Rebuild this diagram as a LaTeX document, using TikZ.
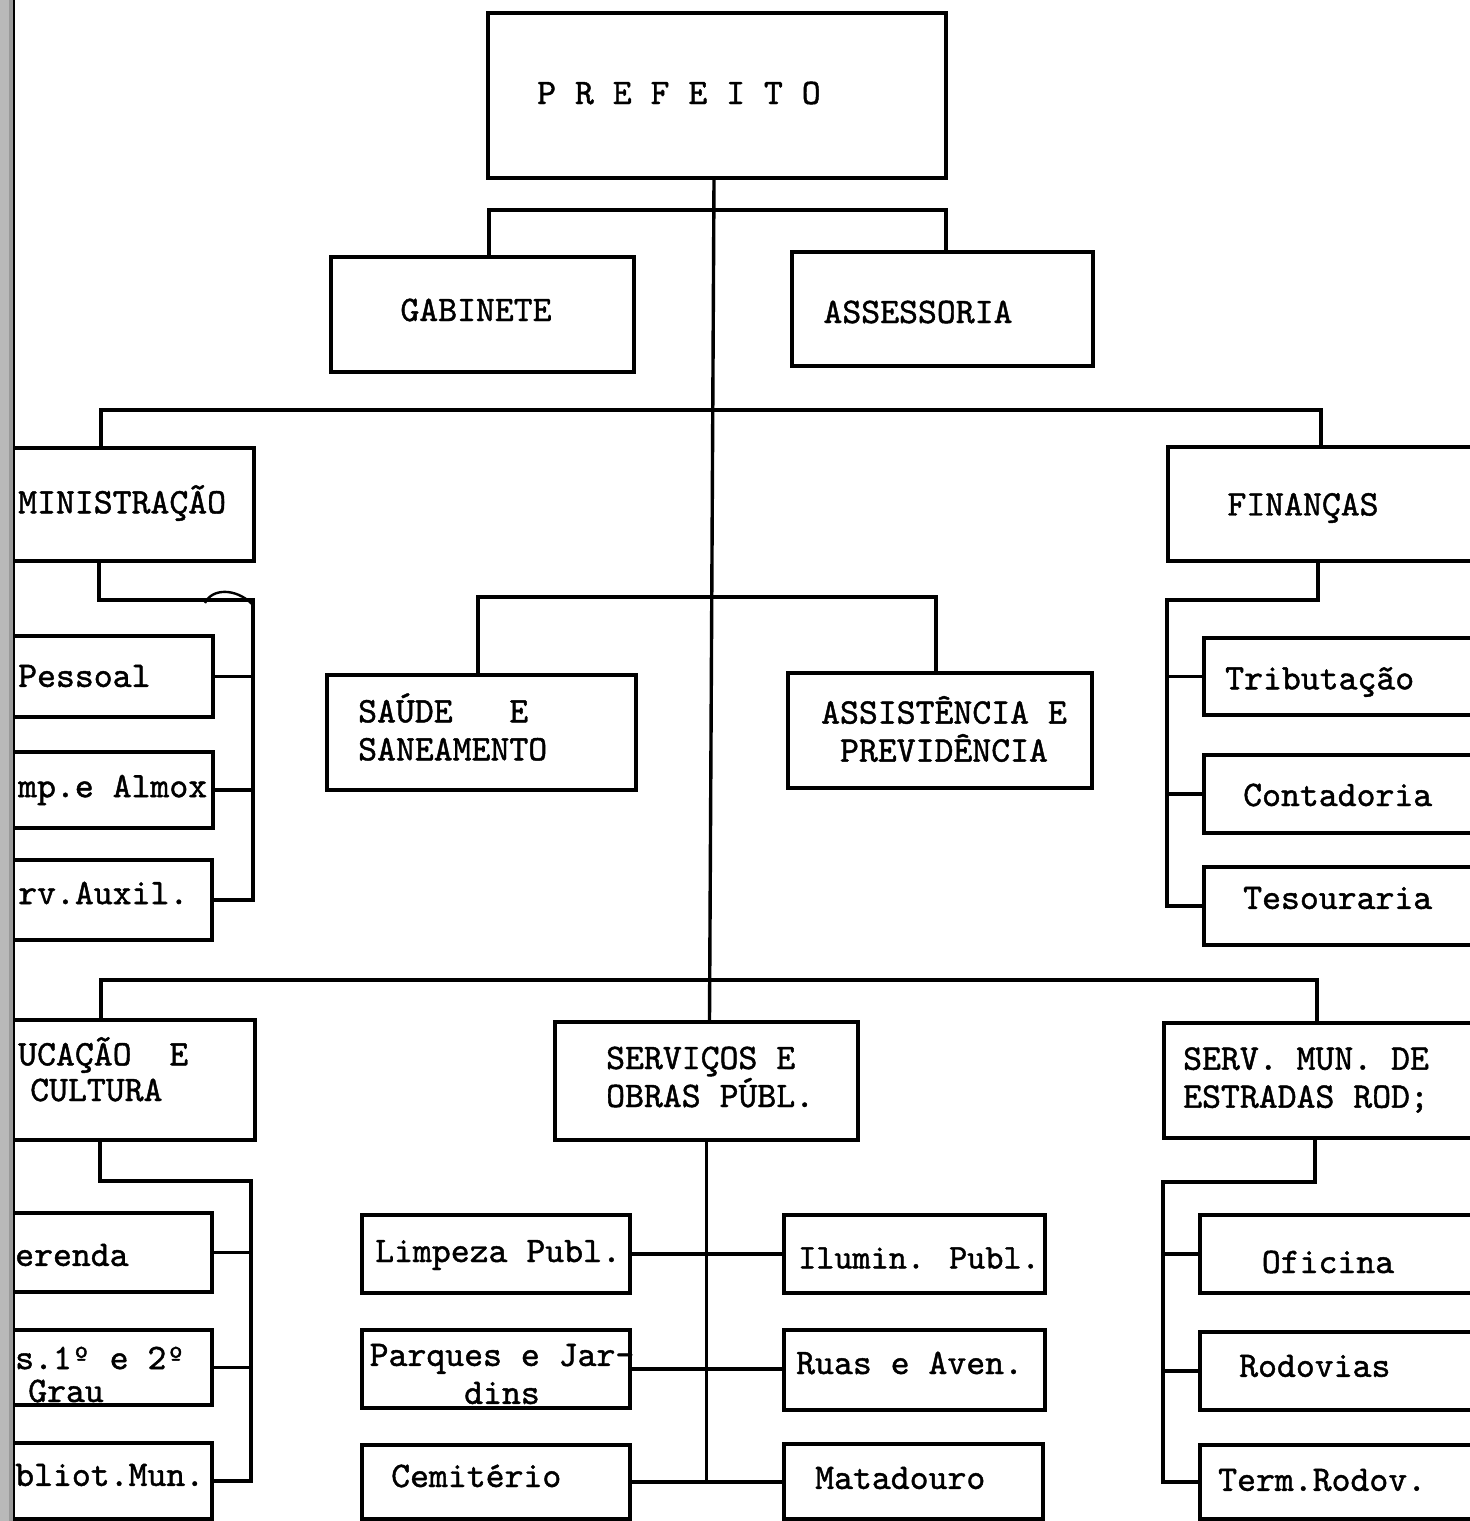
\documentclass[tikz,border=0pt]{standalone}
\usepackage{fontspec}
\newfontfamily\tw[FakeBold=1.2]{lmmono10-regular.otf}
\begin{document}
\begin{tikzpicture}[x=1pt,y=-1pt,
  box/.style={draw, line width=3.4pt, rectangle, inner sep=0pt},
  txt/.style={font=\tw\fontsize{36}{38}\selectfont, inner sep=0pt},
  wire/.style={line width=3.4pt}]
\useasboundingbox (0,0) rectangle (1470,1521);
\clip (0,0) rectangle (1470,1521);
\fill[white] (0,0) rectangle (1470,1521);

% ---- boxes ----
\node[box, minimum width=458, minimum height=165] (pref) at (717,95.5) {};
\node[box, minimum width=303, minimum height=115] (gab) at (482.5,314.5) {};
\node[box, minimum width=301, minimum height=114] (ass) at (942.5,309) {};
\node[box, minimum width=314, minimum height=113] (adm) at (97,504.5) {};
\node[box, minimum width=362, minimum height=114] (fin) at (1349,504) {};
\node[box, minimum width=309, minimum height=115] (sau) at (481.5,732.5) {};
\node[box, minimum width=304, minimum height=115] (asp) at (940,730.5) {};
\node[box, minimum width=273, minimum height=81] (pes) at (76.5,676.5) {};
\node[box, minimum width=273, minimum height=76] (alm) at (76.5,790) {};
\node[box, minimum width=272, minimum height=80] (aux) at (76,900) {};
\node[box, minimum width=326, minimum height=77] (tri) at (1367,676.5) {};
\node[box, minimum width=326, minimum height=78] (con) at (1367,794) {};
\node[box, minimum width=326, minimum height=78] (tes) at (1367,906) {};
\node[box, minimum width=315, minimum height=120] (edu) at (97.5,1080) {};
\node[box, minimum width=303, minimum height=118] (srv) at (706.5,1081) {};
\node[box, minimum width=366, minimum height=115] (der) at (1347,1080.5) {};
\node[box, minimum width=272, minimum height=79] (mer) at (76,1252.5) {};
\node[box, minimum width=272, minimum height=75] (esc) at (76,1367.5) {};
\node[box, minimum width=272, minimum height=76] (bib) at (76,1481) {};
\node[box, minimum width=268, minimum height=78] (lim) at (496,1254) {};
\node[box, minimum width=268, minimum height=78] (par) at (496,1369) {};
\node[box, minimum width=268, minimum height=74] (cem) at (496,1482) {};
\node[box, minimum width=261, minimum height=78] (ilu) at (914.5,1254) {};
\node[box, minimum width=261, minimum height=80] (rua) at (914.5,1370) {};
\node[box, minimum width=259, minimum height=75] (mat) at (913.5,1481.5) {};
\node[box, minimum width=330, minimum height=78] (ofi) at (1365,1254) {};
\node[box, minimum width=330, minimum height=78] (rod) at (1365,1371) {};
\node[box, minimum width=330, minimum height=74] (ter) at (1365,1482) {};

% ---- texts ----
\node[txt, anchor=west] (tpref) at (537,93) {P R E F E I T O};
\node[txt] (tgab) at (476,310) {GABINETE};
\node[txt] (tass) at (918,312) {ASSESSORIA};
\node[txt, anchor=west] (tadm) at (18,503) {MINISTRAÇÃO};
\node[txt] (tfin) at (1303,508) {FINANÇAS};
\node[txt, anchor=west, align=left] (tsau) at (358,727) {SAÚDE\ \ \ E\\SANEAMENTO};
\node[txt, align=center] (tasp) at (944,729) {ASSISTÊNCIA E\\PREVIDÊNCIA};
\node[txt, anchor=west] (tpes) at (18,676) {Pessoal};
\node[txt, anchor=west] (talm) at (18,790) {mp.e Almox};
\node[txt, anchor=west] (taux) at (18,893) {rv.Auxil.};
\node[txt, anchor=west] (ttri) at (1225,682) {Tributação};
\node[txt, anchor=west] (tcon) at (1243,795) {Contadoria};
\node[txt, anchor=west] (ttes) at (1243,898) {Tesouraria};
\node[txt, anchor=west] (tedu1) at (18,1055) {UCAÇÃO\ \ E};
\node[txt, anchor=west] (tedu2) at (30,1090) {CULTURA};
\node[txt, anchor=west, align=left] (tsrv) at (606,1077) {SERVIÇOS E\\OBRAS PÚBL.};
\node[txt, anchor=west, align=left] (tder) at (1183,1080) {SERV. MUN. DE\\ESTRADAS ROD;};
\node[txt, anchor=west] (tmer) at (15,1255) {erenda};
\node[txt, anchor=west] (tesc1) at (15,1358) {s.1º e 2º};
\node[txt, anchor=west] (tesc2) at (28,1391) {Grau};
\node[txt, anchor=west] (tbib) at (15,1475) {bliot.Mun.};
\node[txt, anchor=west] (tlim) at (375,1255) {Limpeza Publ.};
\node[txt, align=center] (tpar) at (502,1374) {Parques e Jar-\\dins};
\node[txt, anchor=west] (tcem) at (391,1476) {Cemitério};
\node[txt, anchor=west, font=\tw\fontsize{34.5}{36}\selectfont] (tilu) at (798,1258) {Ilumin. Publ.};
\node[txt, anchor=west] (trua) at (796,1363) {Ruas e Aven.};
\node[txt, anchor=west] (tmat) at (815,1478) {Matadouro};
\node[txt] (tofi) at (1328,1262) {Oficina};
\node[txt, anchor=west] (trod) at (1239,1366) {Rodovias};
\node[txt, anchor=west] (tter) at (1218,1480) {Term.Rodov.};

% ---- connectors ----
\draw[wire] ([xshift=-3pt]pref.south) -- ([xshift=3pt]srv.north);

\coordinate (t1) at (489,210); \coordinate (t2) at (946,210);
\draw[wire] (gab.north -| t1) -- (t1) -- (t2) -- (ass.north -| t2);

\coordinate (b1) at (101,410); \coordinate (b2) at (1321,410);
\draw[wire] (adm.north -| b1) -- (b1) -- (b2) -- (fin.north -| b2);

\coordinate (c1) at (478,597); \coordinate (c2) at (936,597);
\draw[wire] (sau.north -| c1) -- (c1) -- (c2) -- (asp.north -| c2);

\coordinate (d1) at (101,980); \coordinate (d2) at (1317,980);
\draw[wire] (edu.north -| d1) -- (d1) -- (d2) -- (der.north -| d2);

% Administracao
\coordinate (a1) at (99,600); \coordinate (a2) at (253,600);
\draw[wire] (adm.south -| a1) -- (a1) -- (a2) |- (aux.east);
\draw[wire] (pes.east) -- (pes.east -| a2);
\draw[wire] (alm.east) -- (alm.east -| a2);
\draw[line width=2.4pt] (205,603) .. controls (212,588) and (236,588) .. (252,604);

% Financas
\coordinate (f1) at (1318,600); \coordinate (f2) at (1167,600);
\draw[wire] (fin.south -| f1) -- (f1) -- (f2) |- (tes.west);
\draw[wire] (tri.west) -- (tri.west -| f2);
\draw[wire] (con.west) -- (con.west -| f2);

% Educacao
\coordinate (e1) at (100,1181); \coordinate (e2) at (251,1181);
\draw[wire] (edu.south -| e1) -- (e1) -- (e2) |- (bib.east);
\draw[wire] (mer.east) -- (mer.east -| e2);
\draw[wire] (esc.east) -- (esc.east -| e2);

% Servicos e obras
\draw[wire] (srv.south) -- (srv.south |- cem.east);
\draw[wire] (lim.east) -- (ilu.west);
\draw[wire] (par.east) -- (par.east -| rua.west);
\draw[wire] (cem.east) -- (cem.east -| mat.west);

% DER
\coordinate (g1) at (1315,1182); \coordinate (g2) at (1163,1182);
\draw[wire] (der.south -| g1) -- (g1) -- (g2) |- (ter.west);
\draw[wire] (ofi.west) -- (ofi.west -| g2);
\draw[wire] (rod.west) -- (rod.west -| g2);

% binding shadow on the left edge
\fill[gray!55] (0,0) rectangle (12,1521);
\fill[gray!80] (9,0) rectangle (13,1521);
\draw[line width=2.5pt] (14,0) -- (14,1521);
\end{tikzpicture}
\end{document}
